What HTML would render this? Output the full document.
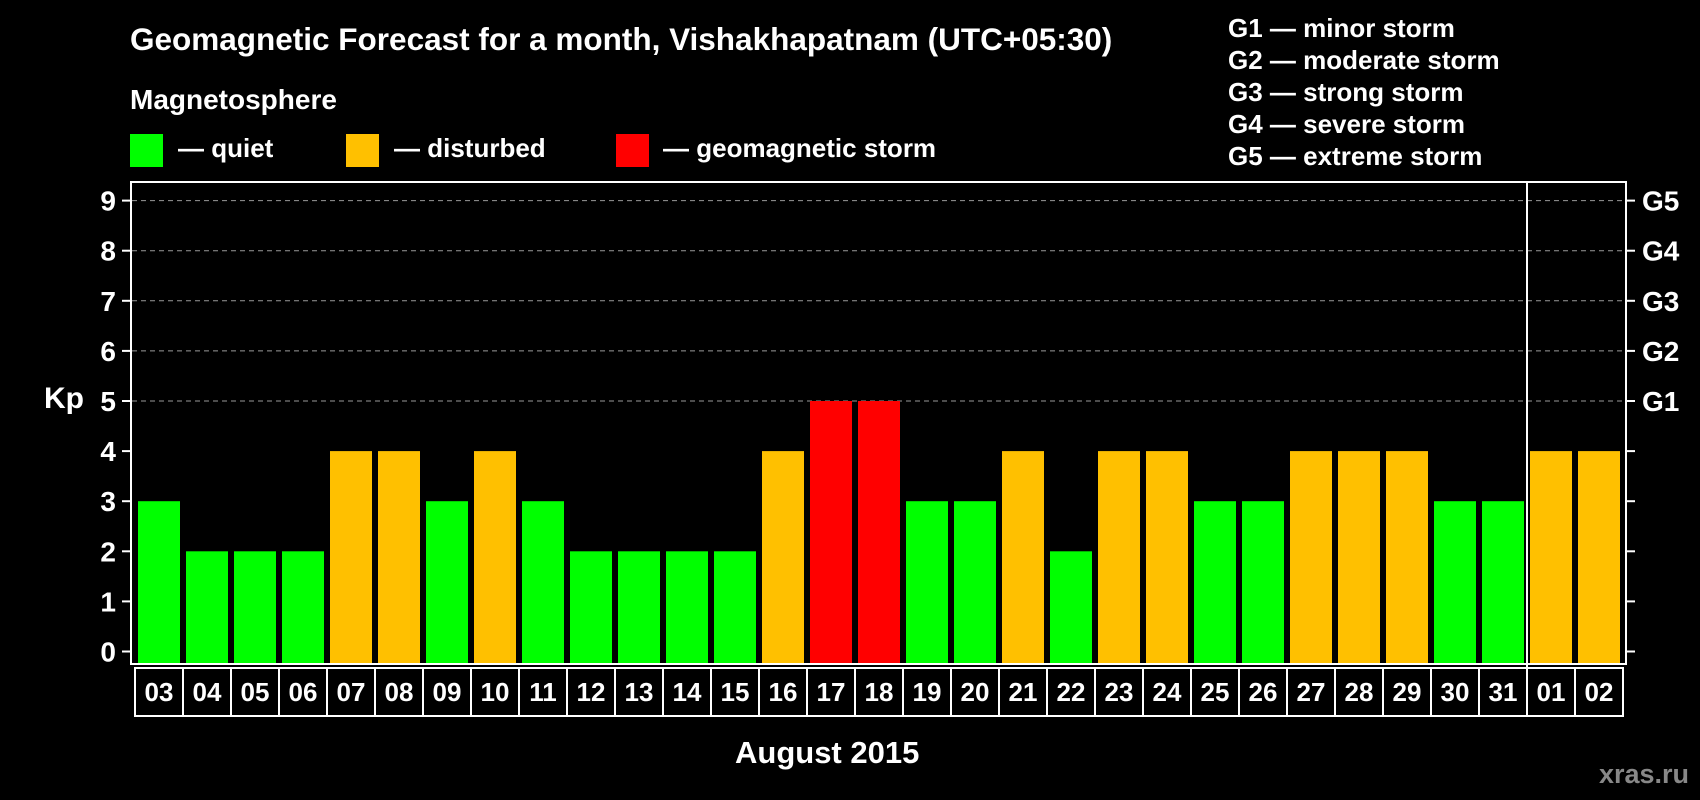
<!DOCTYPE html>
<html><head><meta charset="utf-8"><style>
html,body{margin:0;padding:0;background:#000;}
svg{display:block;font-family:"Liberation Sans",Arial,sans-serif;font-weight:bold;}
</style></head><body>
<svg id="chart" width="1700" height="800" viewBox="0 0 1700 800">
<text x="130" y="50" font-size="31.5" fill="#fff">Geomagnetic Forecast for a month, Vishakhapatnam (UTC+05:30)</text>
<text x="130" y="109" font-size="28" fill="#fff">Magnetosphere</text>
<g><rect x="130" y="134" width="33" height="33" fill="#00ff00"/><text x="178" y="157" font-size="26" fill="#fff">— quiet</text></g>
<g><rect x="346" y="134" width="33" height="33" fill="#ffc000"/><text x="394" y="157" font-size="26" fill="#fff">— disturbed</text></g>
<g><rect x="616" y="134" width="33" height="33" fill="#ff0000"/><text x="663" y="157" font-size="26" fill="#fff">— geomagnetic storm</text></g>
<g font-size="26" fill="#fff">
<text x="1228" y="37">G1 — minor storm</text>
<text x="1228" y="69">G2 — moderate storm</text>
<text x="1228" y="101">G3 — strong storm</text>
<text x="1228" y="133">G4 — severe storm</text>
<text x="1228" y="165">G5 — extreme storm</text>
</g>
<text x="64" y="408" font-size="30" fill="#fff" text-anchor="middle">Kp</text>
<g id="grid"></g>
<g id="bars"></g>
<rect x="131" y="182" width="1495" height="482" fill="none" stroke="#fff" stroke-width="2"/>
<line x1="1527" y1="182" x2="1527" y2="716" stroke="#fff" stroke-width="2"/>
<g id="xlabels"></g>
<text x="735" y="763" font-size="31" fill="#fff">August 2015</text>
<text x="1689" y="783" font-size="27" fill="#888" text-anchor="end">xras.ru</text>
</svg>
<script>
const days = ["03","04","05","06","07","08","09","10","11","12","13","14","15","16","17","18","19","20","21","22","23","24","25","26","27","28","29","30","31","01","02"];
const kp = [3,2,2,2,4,4,3,4,3,2,2,2,2,4,5,5,3,3,4,2,4,4,3,3,4,4,4,3,3,4,4];
const yTicks = [0,1,2,3,4,5,6,7,8,9];
const gLabels = ["","","","","","G1","G2","G3","G4","G5"];
const NS="http://www.w3.org/2000/svg";
const y0=651.5, unit=50.1, slot=48, xStart=135, yBottom=663;
const yScale=v=>y0-v*unit;
const xScale=i=>xStart+i*slot;
function mk(t,a){const e=document.createElementNS(NS,t);for(const k in a)e.setAttribute(k,a[k]);return e;}
const grid=document.getElementById('grid');
yTicks.forEach((v,i)=>{
  const y=yScale(v);
  if(v>=5){const l=mk('line',{x1:132,x2:1625,y1:y,y2:y,stroke:'#999','stroke-dasharray':'5,4','stroke-width':1});
    
    grid.appendChild(l);}
  const tl=mk('line',{x1:122,x2:131,y1:y,y2:y,stroke:'#fff','stroke-width':2});
  
  grid.appendChild(tl);
  const tr=mk('line',{x1:1626,x2:1635,y1:y,y2:y,stroke:'#fff','stroke-width':2});
  
  grid.appendChild(tr);
  const t=mk('text',{x:116,y:y+10,'font-size':28,fill:'#fff','text-anchor':'end'});t.textContent=v;
  
  grid.appendChild(t);
  if(gLabels[i]){const g=mk('text',{x:1642,y:y+10,'font-size':28,fill:'#fff'});g.textContent=gLabels[i];
    
    grid.appendChild(g);}
});
const bars=document.getElementById('bars'), xl=document.getElementById('xlabels');
days.forEach((d,i)=>{
  const v=kp[i];
  const col=v>=5?'#ff0000':(v>=4?'#ffc000':'#00ff00');
  const r=mk('rect',{x:xScale(i)+3,y:yScale(v),width:42,height:yBottom-yScale(v),fill:col});
  
  
  bars.appendChild(r);
  const b=mk('rect',{x:xScale(i),y:668,width:slot,height:48,fill:'none',stroke:'#fff','stroke-width':2});
  
  
  xl.appendChild(b);
  const t=mk('text',{x:xScale(i)+slot/2,y:701,'font-size':26,fill:'#fff','text-anchor':'middle'});
  t.textContent=d;
  
  
  xl.appendChild(t);
});
</script>
</body></html>
